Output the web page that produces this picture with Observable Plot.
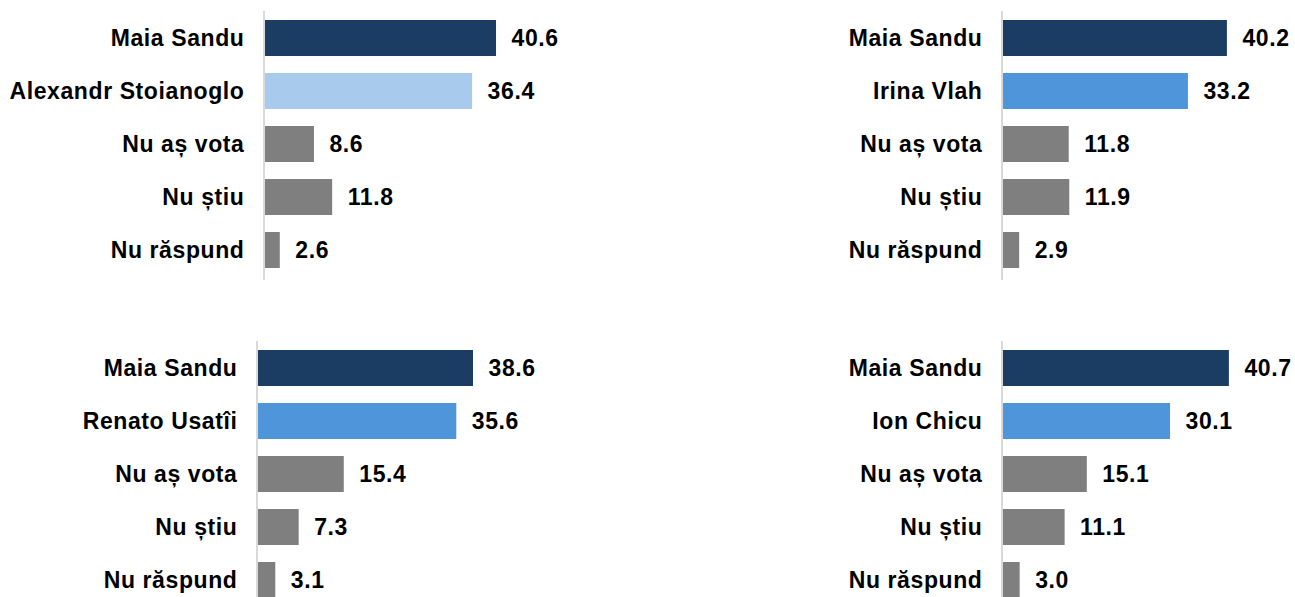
<!DOCTYPE html>
<html>
<head>
<meta charset="utf-8">
<script src="https://cdn.jsdelivr.net/npm/d3@7"></script>
<script src="https://cdn.jsdelivr.net/npm/@observablehq/plot@0.6"></script>
<style>
  html, body { margin: 0; padding: 0; background: #fff; overflow: hidden; }
  #wrap { position: relative; width: 1295px; height: 597px; overflow: hidden; }
  .panel { position: absolute; }
</style>
</head>
<body>
<div id="wrap"></div>
<script>
// ---- Data ----
const categories1 = ["Maia Sandu", "Alexandr Stoianoglo", "Nu aș vota", "Nu știu", "Nu răspund"];
const values1 = [40.6, 36.4, 8.6, 11.8, 2.6];

const categories2 = ["Maia Sandu", "Irina Vlah", "Nu aș vota", "Nu știu", "Nu răspund"];
const values2 = [40.2, 33.2, 11.8, 11.9, 2.9];

const categories3 = ["Maia Sandu", "Renato Usatîi", "Nu aș vota", "Nu știu", "Nu răspund"];
const values3 = [38.6, 35.6, 15.4, 7.3, 3.1];

const categories4 = ["Maia Sandu", "Ion Chicu", "Nu aș vota", "Nu știu", "Nu răspund"];
const values4 = [40.7, 30.1, 15.1, 11.1, 3.0];

// ---- Styles ----
const NAVY = "#1b3d64", LIGHT = "#a8caec", MID = "#4f95d9", GRAY = "#7f7f7f";
const fills1 = [NAVY, LIGHT, GRAY, GRAY, GRAY];
const fills2 = [NAVY, MID, GRAY, GRAY, GRAY];
const fills3 = [NAVY, MID, GRAY, GRAY, GRAY];
const fills4 = [NAVY, MID, GRAY, GRAY, GRAY];

const panels = [
  {cats: categories1, vals: values1, fills: fills1, left: 0,   top: 0,   width: 640, x0: 265, s: 5.69},
  {cats: categories2, vals: values2, fills: fills2, left: 650, top: 0,   width: 645, x0: 353, s: 5.57},
  {cats: categories3, vals: values3, fills: fills3, left: 0,   top: 330, width: 640, x0: 258, s: 5.57},
  {cats: categories4, vals: values4, fills: fills4, left: 650, top: 330, width: 645, x0: 353, s: 5.55}
];

const wrap = document.getElementById("wrap");
for (const p of panels) {
  const data = p.cats.map((name, i) => ({name, value: p.vals[i], fill: p.fills[i]}));
  const chart = Plot.plot({
    width: p.width,
    height: 291,
    marginTop: 9,
    marginBottom: 13,
    marginLeft: p.x0,
    marginRight: 0,
    style: {
      fontFamily: "'Liberation Sans', Arial, sans-serif",
      fontWeight: "bold",
      letterSpacing: "0.6px",
      background: "transparent",
      overflow: "visible"
    },
    x: {domain: [0, 45], range: [p.x0, p.x0 + 45 * p.s], axis: null},
    y: {domain: p.cats, paddingInner: 0.33, paddingOuter: 0.165, label: null},
    marks: [
      Plot.ruleX([0], {stroke: "#d9d9d9", strokeWidth: 2, dx: -1.5, dy: 2}),
      Plot.barX(data, {x: "value", y: "name", fill: d => d.fill}),
      Plot.text(data, {
        x: "value", y: "name", text: d => d.value.toFixed(1),
        dx: 15, textAnchor: "start", fontSize: 23, fontWeight: "bold", fill: "#000"
      }),
      Plot.axisY({tickSize: 0, tickPadding: 21, fontSize: 23, fontWeight: "bold", fill: "#000", label: null})
    ]
  });
  const div = document.createElement("div");
  div.className = "panel";
  div.style.left = p.left + "px";
  div.style.top = p.top + "px";
  div.appendChild(chart);
  wrap.appendChild(div);
}
</script>
</body>
</html>
